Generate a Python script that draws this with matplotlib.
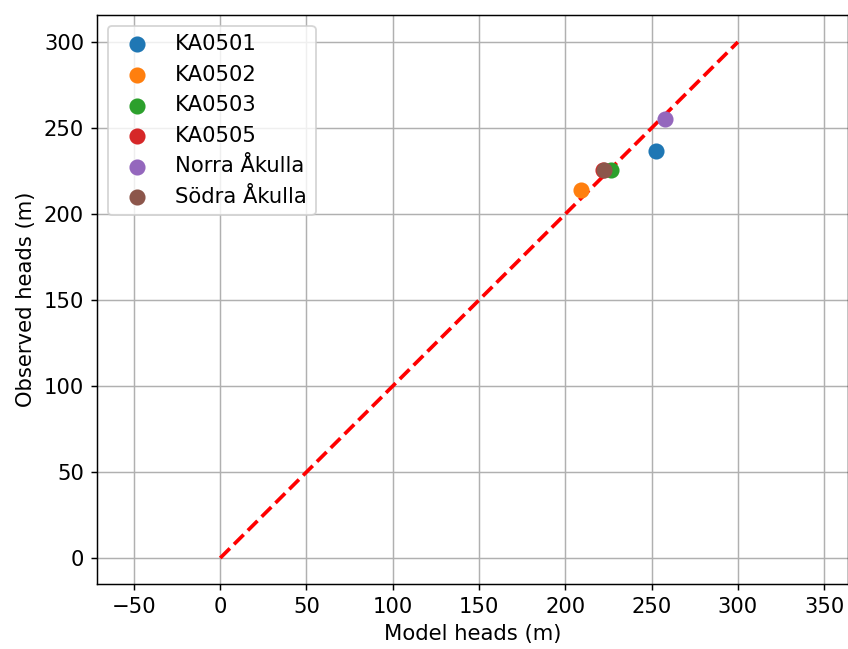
import numpy as np
import matplotlib.pyplot as plt

names = ['KA0501', 'KA0502', 'KA0503', 'KA0505', 'Norra Åkulla', 'Södra Åkulla']
model = [252.6, 209.0, 226.5, 222.0, 257.8, 222.4]
observed = [236.6, 214.0, 225.6, 225.4, 255.2, 225.6]

plt.rcParams['font.size'] = 11.5

fig = plt.figure(figsize=(848/132.5, 649/132.5), dpi=132.5)
ax = fig.add_axes([97/848, 65/649, 751/848, 569/649])

for name, xm, yo in zip(names, model, observed):
    ax.scatter(xm, yo, s=60, label=name, zorder=3)

ax.plot([0, 300], [0, 300], 'r--', lw=2, zorder=2)
ax.grid(zorder=0)
ax.set_axisbelow(True)
ax.set_xlim(-71.4, 363.8)
ax.set_ylim(-15.1, 315.7)
ax.set_xlabel('Model heads (m)')
ax.set_ylabel('Observed heads (m)')
ax.legend(loc='upper left')

fig.savefig('out.png', dpi=132.5)
